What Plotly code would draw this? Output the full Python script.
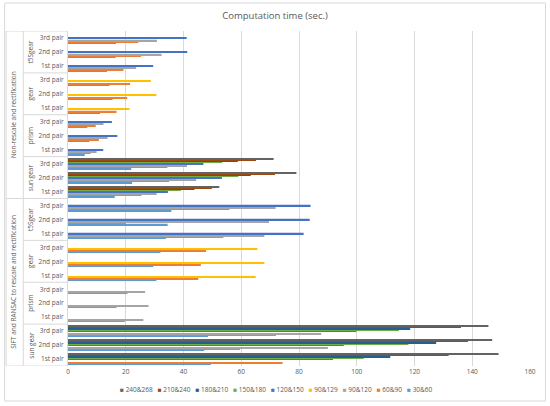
import plotly.graph_objects as go

# category levels (bottom to top, as Excel draws them)
groups = ["SIFT and RANSAC to rescale and rectification", "Non-rescale and rectification"]
parts = ["sun gear", "prism", "gear", "t5Sgear"]
pairs = ["1st pair", "2nd pair", "3rd pair"]

series_names = ["30&60", "60&90", "90&120", "90&129", "120&150",
                "150&180", "180&210", "210&240", "240&268"]
palette = ["#5B9BD5", "#ED7D31", "#A5A5A5", "#FFC000", "#4472C4",
           "#70AD47", "#255E91", "#9E480E", "#636363"]

N = None
# values per series, order: group -> part -> pair
s30_60 = [49.5, 47.2, 48.5, N, N, N, 30.6, 29.5, 32.0, 33.9, 34.5, 35.8,
          16.2, 22.2, 21.9, 5.8, 7.4, 6.7, 11.1, 15.4, 14.4, 13.5, 16.5, 16.6]
s60_90 = [74.3, 59.6, 72.0, 19.7, 16.8, 20.6, 45.1, 46.0, 47.8, 53.8, 20.0, 55.9,
          25.4, 35.0, 34.4, 7.8, 10.7, 9.6, 16.8, 20.5, 21.5, 19.2, 25.3, 24.3]
s90_120 = [N, 90.0, 87.7, 26.1, 27.9, 26.7, N, N, N, 68.0, 69.6, 71.9,
           30.7, 44.4, 41.2, 9.9, 13.7, 12.3, N, N, N, 23.6, 32.4, 30.8]
s90_129 = [N, N, N, N, N, N, 65.0, 68.0, 65.6, N, N, N,
           N, N, N, N, N, N, 21.3, 30.6, 28.7, N, N, N]
s120_150 = [91.8, 95.5, 99.9, N, N, N, N, N, N, 81.6, 83.7, 84.0,
            34.6, 53.3, 46.9, 12.2, 17.1, 15.2, N, N, N, 29.5, 41.3, 41.1]
s150_180 = [102.4, 117.9, 114.6, N, N, N, N, N, N, N, N, N,
            39.1, 59.0, 53.4, N, N, N, N, N, N, N, N, N]
s180_210 = [111.6, 127.5, 118.5, N, N, N, N, N, N, N, N, N,
            43.8, 63.3, 58.8, N, N, N, N, N, N, N, N, N]
s210_240 = [131.8, 138.5, 136.1, N, N, N, N, N, N, N, N, N,
            49.8, 71.7, 65.1, N, N, N, N, N, N, N, N, N]
s240_268 = [149.1, 146.9, 145.6, N, N, N, N, N, N, N, N, N,
            52.4, 79.1, 71.2, N, N, N, N, N, N, N, N, N]

series_values = [s30_60, s60_90, s90_120, s90_129, s120_150,
                 s150_180, s180_210, s210_240, s240_268]

cats = [f"{g}|{p}|{q}" for g in groups for p in parts for q in pairs]
cat_text = [q for g in groups for p in parts for q in pairs]

W, H = 550, 406
ml, mr, mt, mb = 67.5, 19.5, 31, 40
pw, ph = W - ml - mr, H - mt - mb
FONT = "Open Sans"
GREY = "#595959"
LINE = "#D9D9D9"


def px_x(p):
    return (p - ml) / pw


def px_y(p):
    return (H - mb - p) / ph


fig = go.Figure()
for name, vals, col in zip(series_names, series_values, palette):
    fig.add_trace(go.Bar(x=vals, y=cats, orientation="h", name=name,
                         marker=dict(color=col, line_width=0), showlegend=False))

fig.update_layout(
    width=W, height=H, barmode="group", bargap=0.2, bargroupgap=0,
    margin=dict(l=ml, r=mr, t=mt, b=mb),
    paper_bgcolor="white", plot_bgcolor="white",
    font=dict(family=FONT, color=GREY, size=6.5),
    title=dict(text="Computation time (sec.)", x=0.5, xanchor="center",
               y=1 - 16 / H, yanchor="middle",
               font=dict(family=FONT, size=9.5, color=GREY)),
)
fig.update_xaxes(range=[0, 160], dtick=20, showgrid=True, gridcolor=LINE, gridwidth=1,
                 zeroline=False, showline=False, ticks="",
                 tickfont=dict(size=6.5, color=GREY))
fig.update_yaxes(type="category", categoryorder="array", categoryarray=cats,
                 tickvals=cats, ticktext=cat_text, showgrid=False, zeroline=False,
                 showline=True, linecolor=LINE, linewidth=1, ticks="",
                 ticklabelstandoff=2,
                 tickfont=dict(size=6.5, color=GREY), range=[-0.5, len(cats) - 0.5])

# multi-level category label boxes
shapes = []
n_per_group = len(parts) * len(pairs)
x_sub = px_x(22.7)
x_out = px_x(5.5)
for gi in range(len(groups)):
    for pi in range(1, len(parts)):
        yb = gi * n_per_group + pi * len(pairs) - 0.5
        shapes.append(dict(type="line", xref="paper", yref="y", x0=x_sub, x1=0,
                           y0=yb, y1=yb, line=dict(color=LINE, width=1)))
for yb in [-0.5, n_per_group - 0.5, len(cats) - 0.5]:
    shapes.append(dict(type="line", xref="paper", yref="y", x0=x_out, x1=0,
                       y0=yb, y1=yb, line=dict(color=LINE, width=1)))
for xv in [x_sub, x_out]:
    shapes.append(dict(type="line", xref="paper", yref="y", x0=xv, x1=xv,
                       y0=-0.5, y1=len(cats) - 0.5, line=dict(color=LINE, width=1)))
# chart area border
shapes.append(dict(type="rect", xref="paper", yref="paper",
                   x0=px_x(4), x1=px_x(546), y0=px_y(401), y1=px_y(3),
                   line=dict(color=LINE, width=1)))
fig.update_layout(shapes=shapes)

annotations = []
for gi, g in enumerate(groups):
    for pi, p in enumerate(parts):
        mid = gi * n_per_group + pi * len(pairs) + 1
        annotations.append(dict(text=p, xref="paper", yref="y", x=px_x(30), y=mid,
                                xanchor="center", yanchor="middle",
                                textangle=-90, showarrow=False,
                                font=dict(size=6.5, color=GREY)))
    annotations.append(dict(text=g, xref="paper", yref="y", x=px_x(13), 
                            y=gi * n_per_group + (n_per_group - 1) / 2,
                            xanchor="center", yanchor="middle",
                            textangle=-90, showarrow=False,
                            font=dict(size=6.5, color=GREY)))

# legend drawn as text, order as in the reference
sp = "\u00a0" * 3
legend_txt = sp.join(f"<span style='color:{c}'>■</span>\u00a0{n}"
                     for n, c in zip(series_names[::-1], palette[::-1]))
annotations.append(dict(text=legend_txt, xref="paper", yref="paper",
                        x=px_x(276), y=px_y(389), showarrow=False,
                        xanchor="center", yanchor="middle",
                        font=dict(size=6.5, color=GREY)))
fig.update_layout(annotations=annotations)

fig.write_html("out.html", config={"displayModeBar": False},
               post_script="document.body.style.margin='0';"
                           "document.body.style.overflow='hidden';")
